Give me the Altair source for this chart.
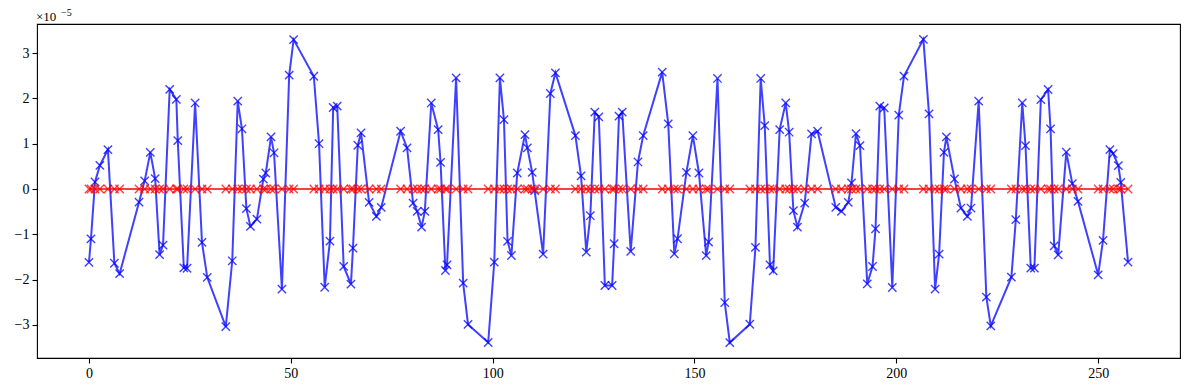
import altair as alt
import pandas as pd

# x positions of the samples
x_vals = [0.0, 0.5, 1.5, 2.7, 4.7, 6.3, 7.6, 12.4, 13.8, 15.2, 16.4, 17.5, 18.35, 20.0, 21.65, 22.0,
          23.5, 24.3, 26.3, 28.0, 29.3, 33.9, 35.5, 36.85, 37.9, 39.0, 40.0, 41.6, 43.2, 43.8, 45.1,
          45.85, 47.8, 49.6, 50.7, 55.7, 57.0, 58.4, 59.7, 60.5, 61.5, 63.1, 64.9, 65.4, 66.6, 67.4,
          69.4, 71.2, 72.4, 77.2, 78.8, 80.3, 81.3, 82.4, 83.2, 84.8, 86.5, 87.1, 88.3, 88.7, 90.95,
          92.7, 93.9, 98.9, 100.4, 101.8, 102.8, 103.7, 104.65, 106.1, 108.0, 108.6, 109.8, 110.4,
          112.5, 114.3, 115.55, 120.5, 121.9, 123.2, 124.2, 125.3, 126.3, 127.8, 129.6, 130.1, 131.3,
          132.1, 134.2, 136.0, 137.3, 142.0, 143.5, 145.0, 145.8, 148.0, 149.6, 151.1, 152.9, 153.5,
          155.7, 157.5, 158.75, 163.7, 165.1, 166.4, 167.4, 168.7, 169.5, 171.1, 172.6, 173.45, 174.5,
          175.5, 177.3, 179.0, 180.5, 185.0, 186.4, 188.1, 188.9, 190.0, 191.0, 192.8, 194.1, 194.85,
          195.9, 197.0, 199.0, 200.6, 201.9, 206.7, 208.1, 209.6, 210.6, 211.8, 212.4, 214.4, 216.0,
          217.6, 218.5, 220.4, 222.3, 223.4, 228.5, 229.6, 231.2, 232.0, 233.3, 234.2, 235.8, 237.6,
          238.2, 239.1, 240.1, 242.1, 243.6, 245.0, 250.0, 251.2, 252.9, 253.7, 255.0, 255.6, 257.4]

# blue series, in units of 1e-5
blue_vals = [-1.62, -1.10, 0.155, 0.52, 0.87, -1.64, -1.87, -0.29, 0.18, 0.81, 0.23, -1.45, -1.24, 2.20,
             1.98, 1.07, -1.74, -1.75, 1.90, -1.18, -1.95, -3.04, -1.585, 1.94, 1.33, -0.435, -0.826,
             -0.664, 0.22, 0.354, 1.15, 0.80, -2.21, 2.515, 3.30, 2.49, 1.00, -2.17, -1.15, 1.80, 1.83,
             -1.71, -2.10, -1.305, 0.966, 1.24, -0.295, -0.605, -0.406, 1.276, 0.907, -0.31, -0.494,
             -0.841, -0.494, 1.90, 1.31, 0.59, -1.80, -1.674, 2.456, -2.08, -2.99, -3.39, -1.615, 2.456,
             1.534, -1.158, -1.468, 0.354, 1.20, 0.907, 0.369, -0.037, -1.438, 2.109, 2.566, 1.18, 0.29,
             -1.394, -0.59, 1.696, 1.593, -2.131, -2.131, -1.209, 1.608, 1.696, -1.379, 0.597, 1.18,
             2.581, 1.438, -1.431, -1.099, 0.369, 1.18, 0.354, -1.47, -1.17, 2.441, -2.507, -3.392,
             -2.987, -1.29, 2.441, 1.401, -1.674, -1.807, 1.313, 1.903, 1.254, -0.479, -0.841, -0.31,
             1.217, 1.276, -0.406, -0.494, -0.295, 0.133, 1.224, 0.959, -2.094, -1.711, -0.878, 1.829,
             1.792, -2.175, 1.63, 2.493, 3.304, 1.659, -2.212, -1.438, 0.811, 1.15, 0.221, -0.42, -0.605,
             -0.42, 1.94, -2.389, -3.024, -1.947, -0.678, 1.903, 0.959, -1.748, -1.748, 1.976, 2.198,
             1.327, -1.254, -1.453, 0.815, 0.12, -0.273, -1.895, -1.136, 0.87, 0.782, 0.516, 0.147, -1.615]

# red series (flat at zero), in units of 1e-5
red_vals = [0.0] * len(x_vals)

x_ticks = [0, 50, 100, 150, 200, 250]
y_ticks = [-3, -2, -1, 0, 1, 2, 3]
offset_base = "×10"
offset_exp = "−5"

FONT = "Liberation Serif"
XMARK = "M-1,-1L1,1M-1,1L1,-1"

blue_df = pd.DataFrame({"x": x_vals, "y": blue_vals, "i": list(range(len(x_vals)))})
red_df = pd.DataFrame({"x": x_vals, "y": red_vals, "i": list(range(len(x_vals)))})

xenc = alt.X("x:Q", scale=alt.Scale(domain=[-12.87, 270.27], nice=False, zero=False),
             axis=alt.Axis(values=x_ticks, title=None, format="d", grid=False, domain=False))
yenc = alt.Y("y:Q", scale=alt.Scale(domain=[-3.732, 3.644], nice=False, zero=False),
             axis=alt.Axis(values=y_ticks, title=None, format="d", grid=False, domain=False))


def series(df, color):
    base = alt.Chart(df).encode(x=xenc, y=yenc, order="i:Q")
    line = base.mark_line(color=color, opacity=0.75, strokeWidth=2)
    pts = base.mark_point(shape=XMARK, size=69, filled=False, color=color,
                          strokeWidth=1.4, opacity=0.75)
    return line + pts


offset1 = alt.Chart(pd.DataFrame({"t": [offset_base]})).mark_text(
    align="left", baseline="alphabetic", font=FONT, fontSize=13, color="black"
).encode(x=alt.value(-1), y=alt.value(-3), text="t:N")
offset2 = alt.Chart(pd.DataFrame({"t": [offset_exp]})).mark_text(
    align="left", baseline="alphabetic", font=FONT, fontSize=10, color="black"
).encode(x=alt.value(24), y=alt.value(-8), text="t:N")

chart = alt.layer(series(blue_df, "#0000ff"), series(red_df, "#ff0000"), offset1, offset2).properties(
    width=1143, height=334,
    padding={"left": 29, "top": 16, "right": 1, "bottom": 24},
    autosize=alt.AutoSizeParams(type="none"),
).configure_view(
    stroke="black", strokeWidth=1.1
).configure_axis(
    labelFont=FONT, labelFontSize=14, labelColor="black",
    tickColor="black", tickSize=5, tickWidth=1.1, labelPadding=3,
)

chart.save("out.html", embed_options={"renderer": "svg", "actions": False})
